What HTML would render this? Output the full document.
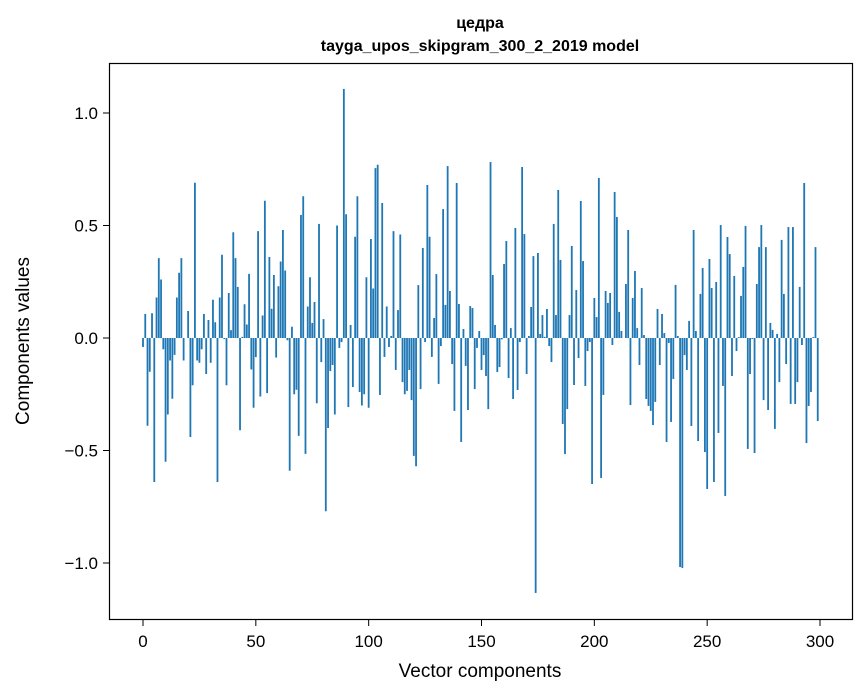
<!DOCTYPE html>
<html><head><meta charset="utf-8"><style>
body{margin:0;background:#fff}
svg{display:block;font-family:"Liberation Sans","DejaVu Sans",sans-serif}
</style></head><body>
<svg id="chart" width="867" height="696" viewBox="0 0 867 696" xmlns="http://www.w3.org/2000/svg">
<rect width="867" height="696" fill="#fff"/>
<text x="480" y="28" text-anchor="middle" font-size="16" font-weight="bold">цедра</text>
<text x="480" y="51" text-anchor="middle" font-size="16" font-weight="bold">tayga_upos_skipgram_300_2_2019 model</text>
<g id="bars"></g>
<g id="axes"></g>
<rect x="109.5" y="63.5" width="743" height="556" fill="none" stroke="#000" stroke-width="1.2"/>
<text x="480" y="677" text-anchor="middle" font-size="19">Vector components</text>
<text transform="translate(29,341) rotate(-90)" text-anchor="middle" font-size="19">Components values</text>
</svg>
<script>
const values = [
-0.04,0.107,-0.39,-0.15,0.11,-0.64,0.18,0.355,0.26,-0.05,
-0.55,-0.34,-0.1,-0.27,-0.075,0.18,0.29,0.355,-0.1,0,
0.12,-0.44,-0.21,0.69,-0.1,-0.11,-0.05,0.107,-0.16,0.08,
-0.11,0.17,0.07,-0.64,0.18,0.37,-0.005,-0.21,0.2,0.035,
0.47,0.355,0.227,-0.41,0.005,0.15,0.06,0.285,-0.14,-0.31,
-0.085,0.475,-0.26,0.1,0.61,-0.245,0.36,0.13,0.28,-0.087,
0.23,0.34,0.48,0.30,-0.01,-0.59,0.05,-0.25,-0.23,-0.435,
0.547,0.63,-0.515,0.14,0.27,0.067,0.16,-0.29,0.507,-0.107,
0.084,-0.77,-0.40,-0.147,-0.12,-0.34,0.50,-0.044,-0.018,1.107,
0.55,-0.307,0.058,-0.218,0.45,0.63,-0.24,-0.30,-0.25,0.27,
-0.31,0.44,0.22,0.755,0.77,-0.253,0.60,-0.084,0.14,-0.04,
0.009,0.475,-0.142,0.124,0.46,-0.196,-0.25,-0.235,-0.142,-0.276,
-0.524,-0.57,0.235,-0.227,0.40,-0.018,0.68,0.45,-0.084,0.089,
0.284,-0.204,-0.036,0.573,0.147,0.764,0.209,-0.116,-0.324,0.689,
0.151,-0.462,0.04,-0.124,-0.32,0.142,0.133,-0.227,-0.044,0.031,
-0.142,-0.076,-0.169,-0.316,0.782,0.28,0.058,-0.151,-0.129,-0.006,
0.329,0.431,-0.178,0.044,-0.271,0.489,-0.231,-0.018,0.76,0.462,
-0.16,0.009,0.138,0.364,-1.133,0.378,0.018,0.102,0.005,0.129,
-0.036,-0.107,0.507,0.102,0.658,0.347,-0.382,-0.516,-0.316,0.102,
0.409,-0.209,0.213,-0.089,0.609,0.342,-0.213,-0.058,-0.018,-0.649,
0.178,0.093,0.711,-0.622,-0.253,0.209,0.156,0.2,-0.031,0.649,
0.538,0.116,0.031,0,0.24,0.48,-0.298,0.178,0.298,0.044,
-0.12,0.222,0.013,-0.271,-0.302,-0.324,-0.387,-0.284,0.129,-0.12,
0.107,0.022,-0.462,-0.022,-0.373,-0.182,0.236,0.009,-1.018,-1.022,
-0.076,-0.142,0.076,-0.391,0.48,0.031,-0.458,0.196,0.311,-0.507,
-0.671,0.351,0.222,-0.64,0.249,-0.422,0.502,-0.213,-0.702,0.449,
0.373,-0.169,0.276,-0.058,0.004,0.187,0.316,0.498,-0.493,-0.16,
-0.004,-0.511,0.24,0.404,0.502,-0.276,0.404,-0.32,0.067,0.036,
-0.404,0.018,-0.196,0.436,0.196,-0.116,0.493,-0.293,0.493,-0.293,
-0.196,0.227,-0.031,0.689,-0.467,-0.302,-0.24,0.004,0.404,-0.369
];
const xTicks = [0,50,100,150,200,250,300];
const yTicks = [-1.0,-0.5,0.0,0.5,1.0];
const yTickLabels = ["\u22121.0","\u22120.5","0.0","0.5","1.0"];

const NS="http://www.w3.org/2000/svg";
const xs = v => 143 + v*(820-143)/300;
const ys = v => 338 - v*225;
const bars=document.getElementById('bars');
values.forEach((v,i)=>{
  const r=document.createElementNS(NS,'rect');
  
  
  const w=0.8*(xs(1)-xs(0));
  r.setAttribute('x',xs(i)-w/2);
  r.setAttribute('width',w);
  const y0=ys(0), y1=ys(v);
  r.setAttribute('y',Math.min(y0,y1));
  r.setAttribute('height',Math.abs(y1-y0));
  r.setAttribute('fill','#1f77b4');
  bars.appendChild(r);
});
const axes=document.getElementById('axes');
xTicks.forEach(t=>{
  const l=document.createElementNS(NS,'line');
  
  
  l.setAttribute('x1',xs(t));l.setAttribute('x2',xs(t));
  l.setAttribute('y1',620);l.setAttribute('y2',626);
  l.setAttribute('stroke','#000');
  axes.appendChild(l);
  const tx=document.createElementNS(NS,'text');
  
  
  tx.setAttribute('x',xs(t));tx.setAttribute('y',647);
  tx.setAttribute('text-anchor','middle');tx.setAttribute('font-size','17');
  tx.textContent=t;
  axes.appendChild(tx);
});
yTicks.forEach((t,i)=>{
  const l=document.createElementNS(NS,'line');
  
  
  l.setAttribute('x1',103);l.setAttribute('x2',109);
  l.setAttribute('y1',ys(t));l.setAttribute('y2',ys(t));
  l.setAttribute('stroke','#000');
  axes.appendChild(l);
  const tx=document.createElementNS(NS,'text');
  
  
  tx.setAttribute('x',98);tx.setAttribute('y',ys(t)+6);
  tx.setAttribute('text-anchor','end');tx.setAttribute('font-size','17');
  tx.textContent=yTickLabels[i];
  axes.appendChild(tx);
});
</script>
</body></html>
